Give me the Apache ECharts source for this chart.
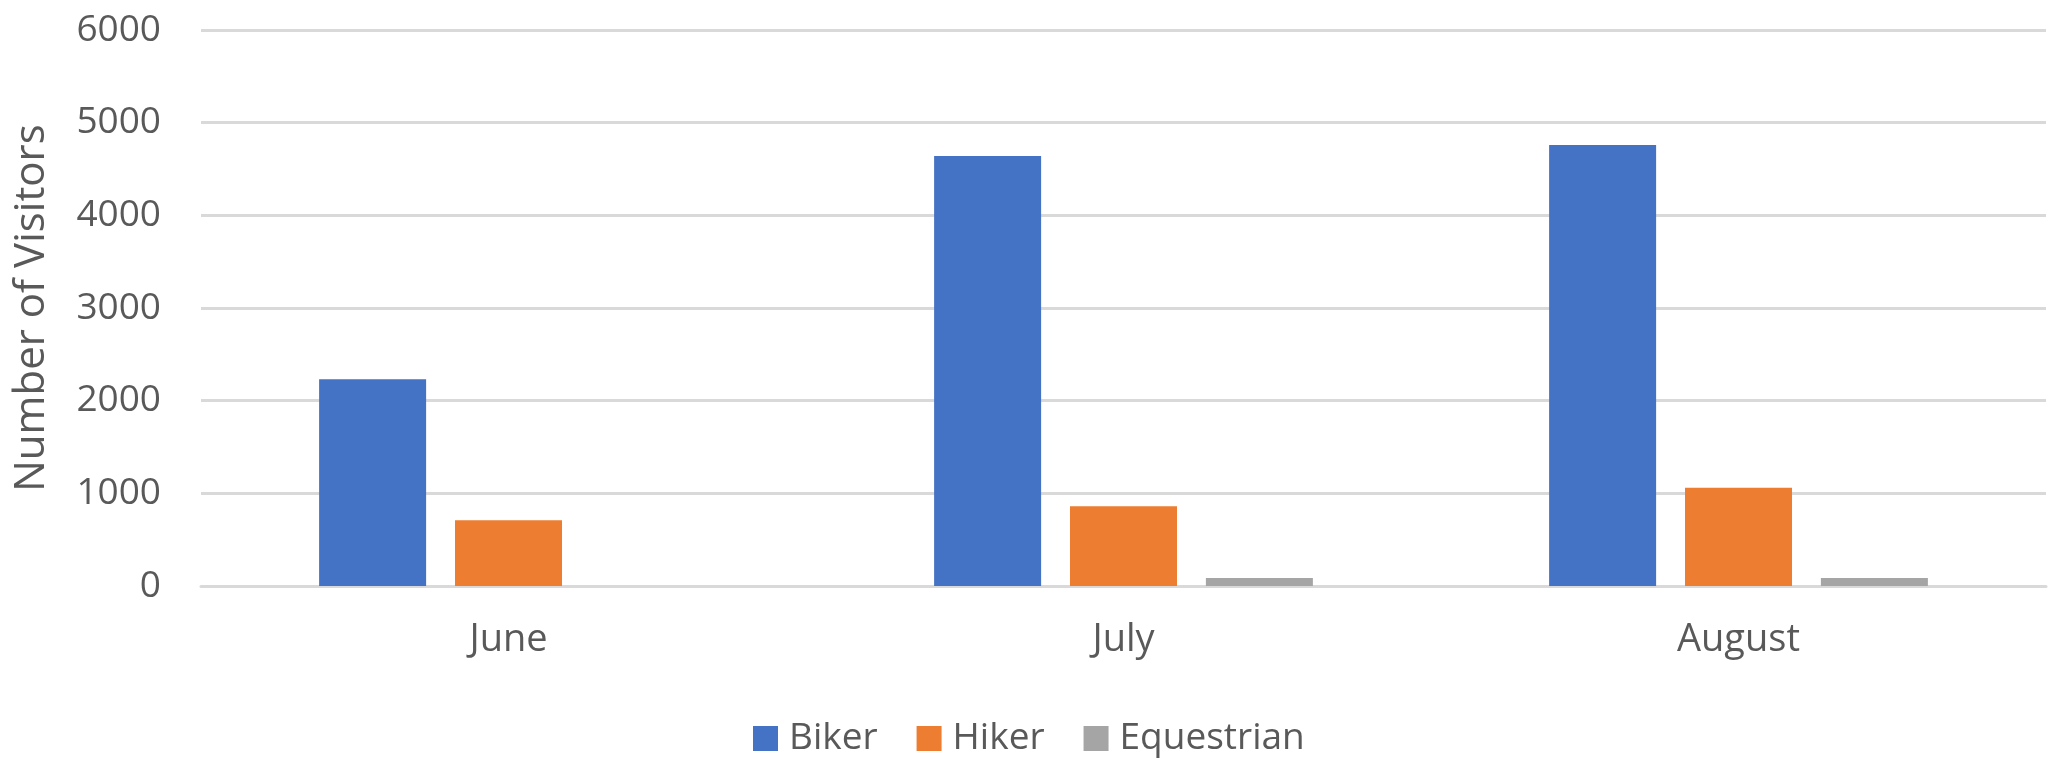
<!DOCTYPE html>
<html>
<head>
<meta charset="utf-8">
<script src="https://cdn.jsdelivr.net/npm/echarts@6/dist/echarts.min.js"></script>
<style>
  html, body { margin: 0; padding: 0; background: #fff; }
  #chart { width: 2051px; height: 759px; }
</style>
</head>
<body>
<div id="chart"></div>
<script>
// data
const months = ['June', 'July', 'August']
const biker = [2230, 4640, 4760]
const hiker = [710, 860, 1060]
const equestrian = [0, 85, 85]

const textColor = '#595959'
const fontFamily = '"Open Sans", sans-serif'

const chart = echarts.init(document.getElementById('chart'))
chart.setOption({
  animation: false,
  textStyle: { fontFamily: fontFamily },
  grid: {
    left: 201,
    right: 5,
    top: 30,
    bottom: 173,
    outerBoundsMode: 'none',
    containLabel: false
  },
  legend: {
    bottom: -3,
    left: 748,
    itemWidth: 25,
    itemHeight: 25,
    itemGap: 39,
    icon: 'rect',
    textStyle: { color: textColor, fontSize: 37, fontFamily: fontFamily, padding: [0, 0, 0, 6] },
    data: ['Biker', 'Hiker', 'Equestrian']
  },
  xAxis: {
    type: 'category',
    data: months,
    axisTick: { show: false },
    axisLine: { lineStyle: { color: '#d9d9d9', width: 3 } },
    axisLabel: { color: textColor, fontSize: 38, margin: 35 }
  },
  yAxis: {
    type: 'value',
    min: 0,
    max: 6000,
    interval: 1000,
    name: 'Number of Visitors',
    nameLocation: 'middle',
    nameGap: 148,
    nameMoveOverlap: false,
    nameTextStyle: { color: textColor, fontSize: 42 },
    axisLine: { show: false },
    axisTick: { show: false },
    axisLabel: { color: textColor, fontSize: 37, margin: 40, formatter: v => String(v) },
    splitLine: { lineStyle: { color: '#d9d9d9', width: 3 } }
  },
  series: [
    { name: 'Biker', type: 'bar', data: biker, barWidth: 107, barGap: '27%', itemStyle: { color: '#4472c4' } },
    { name: 'Hiker', type: 'bar', data: hiker, barWidth: 107, barGap: '27%', itemStyle: { color: '#ed7d31' } },
    { name: 'Equestrian', type: 'bar', data: equestrian, barWidth: 107, barGap: '27%', itemStyle: { color: '#a5a5a5' } }
  ]
})
</script>
</body>
</html>
